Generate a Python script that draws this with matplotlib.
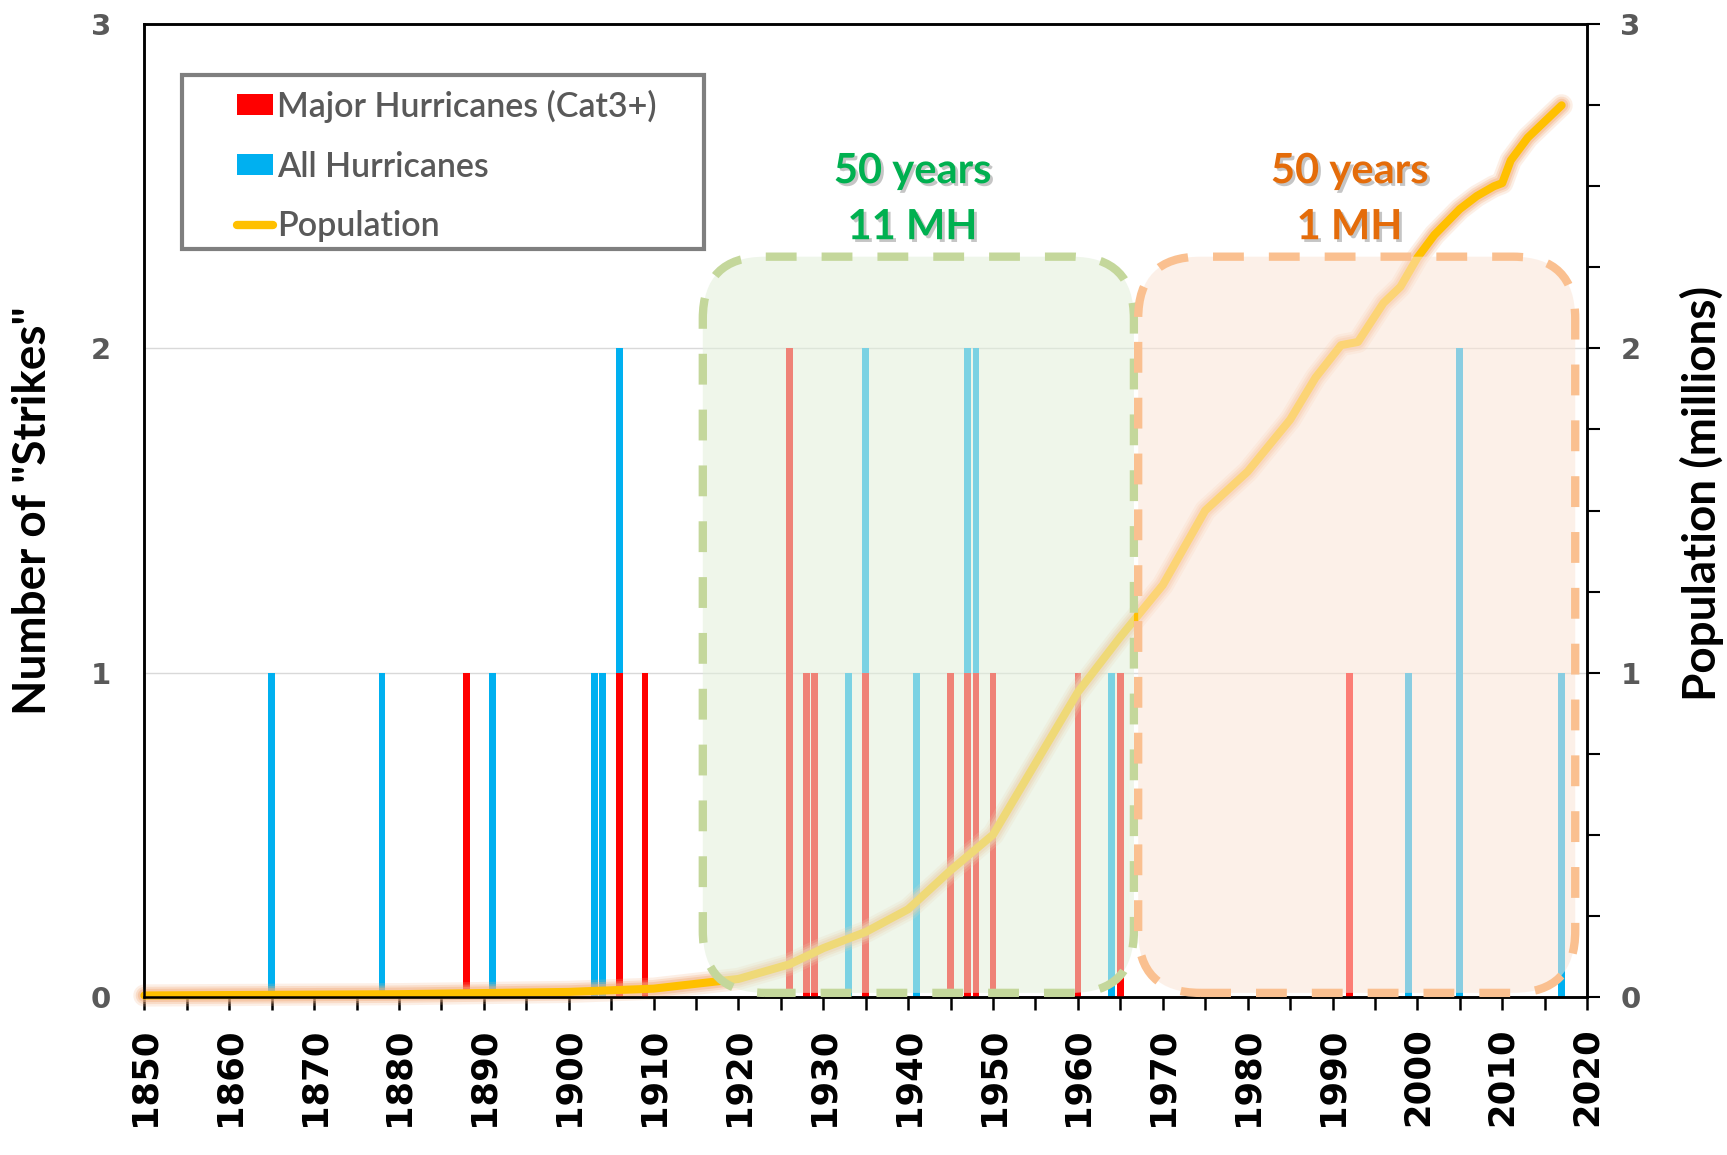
import numpy as np
import matplotlib
matplotlib.use('Agg')
import matplotlib.pyplot as plt
import matplotlib.patheffects as pe
from matplotlib import colors as mcolors
from matplotlib.patches import FancyBboxPatch, Rectangle, Patch
from matplotlib.lines import Line2D
from matplotlib.transforms import IdentityTransform

# Hurricane strikes per year (all hurricanes, major ones drawn on top)
all_years = [1865, 1878, 1888, 1891, 1903, 1904, 1906, 1909, 1926, 1928, 1929, 1933,
             1935, 1941, 1945, 1947, 1948, 1950, 1960, 1964, 1965, 1992, 1999, 2005, 2017]
all_counts = [1, 1, 1, 1, 1, 1, 2, 1, 2, 1, 1, 1,
              2, 1, 1, 2, 2, 1, 1, 1, 1, 1, 1, 2, 1]
major_years = [1888, 1906, 1909, 1926, 1928, 1929, 1935, 1945, 1947, 1948, 1950, 1960, 1965, 1992]
major_counts = [1, 1, 1, 2, 1, 1, 1, 1, 1, 1, 1, 1, 1, 1]

# Population (millions)
pop_years = [1850, 1880, 1900, 1910, 1915, 1920, 1926, 1930, 1935, 1940, 1945, 1950, 1955,
             1960, 1965, 1970, 1975, 1980, 1985, 1988, 1991, 1993, 1996, 1998, 2000, 2002,
             2005, 2007, 2009, 2010, 2011, 2013, 2015, 2017]
pop_values = [0.004, 0.008, 0.015, 0.025, 0.04, 0.055, 0.10, 0.15, 0.20, 0.27, 0.39, 0.50, 0.72,
              0.94, 1.11, 1.27, 1.50, 1.62, 1.78, 1.91, 2.01, 2.02, 2.14, 2.19, 2.28, 2.35,
              2.43, 2.47, 2.50, 2.51, 2.58, 2.65, 2.70, 2.75]

x_ticks = list(range(1850, 2021, 10))
y_ticks = [0, 1, 2, 3]

RED = '#FF0000'
BLUE = '#00B0F0'
GOLD = '#FFC000'
GRAY_TXT = '#595959'

fig = plt.figure(figsize=(17.27, 11.55), dpi=100)
ax = fig.add_axes([0.0836, 0.137, 0.8354, 0.842])
ax2 = ax.twinx()

# bars
ax.bar(all_years, all_counts, width=0.8, color=BLUE, zorder=2)
ax.bar(major_years, major_counts, width=0.8, color=RED, zorder=3)

ax.set_xlim(1850, 2020)
ax.set_ylim(0, 3)
ax2.set_ylim(0, 3)

# left axis
ax.set_yticks(y_ticks)
ax.set_yticklabels([str(v) for v in y_ticks], fontsize=21, fontweight='bold',
                   color=GRAY_TXT, family='DejaVu Sans')
ax.tick_params(axis='y', length=0, pad=24)
ax.yaxis.grid(True, color='#D9D9D9', lw=1)
ax.set_axisbelow(True)

# bottom axis
ax.set_xticks(x_ticks)
ax.set_xticklabels([str(v) for v in x_ticks], rotation=90, fontsize=25.5,
                   fontweight='bold', color='black', family='DejaVu Sans')
ax.set_xticks(range(1855, 2021, 10), minor=True)
ax.tick_params(axis='x', which='both', length=9, width=1.8, direction='out', pad=13)

# right axis
ax2.set_yticks(y_ticks)
ax2.set_yticklabels([str(v) for v in y_ticks], fontsize=21, fontweight='bold',
                    color=GRAY_TXT, family='DejaVu Sans')
ax2.set_yticks(np.arange(0, 3.01, 0.25), minor=True)
ax2.tick_params(axis='y', which='both', length=9, width=1.5, direction='out', pad=15)

for a in (ax, ax2):
    for s in a.spines.values():
        s.set_linewidth(1.8)
        s.set_color('black')

ax.set_ylabel('Number of "Strikes"', fontsize=33, fontweight='bold', family='Lato')
ax.yaxis.set_label_coords(-0.0771, 0.5)
ax.yaxis.label.set_va('center')
ax2.set_ylabel('Population (millions)', fontsize=33, fontweight='bold', family='Lato')
ax2.yaxis.set_label_coords(1.0796, 0.518)
ax2.yaxis.label.set_va('center')

# population line with soft glow
for lw, al in [(16, 0.2), (12.5, 0.3), (9.5, 0.45)]:
    ax2.plot(pop_years, pop_values, color='#F4B183', lw=lw, alpha=al,
             solid_capstyle='round', solid_joinstyle='round', clip_on=False, zorder=2)
ax2.plot(pop_years, pop_values, color=GOLD, lw=5.8, solid_capstyle='round',
         solid_joinstyle='round', clip_on=False, zorder=2)


def add_box(x0, x1, y0, y1, edge, face):
    (px0, py0), (px1, py1) = ax.transData.transform([(x0, y0), (x1, y1)])
    box = FancyBboxPatch((px0, py0), px1 - px0, py1 - py0,
                         boxstyle='round,pad=0,rounding_size=62',
                         transform=IdentityTransform(),
                         facecolor=mcolors.to_rgba(face, 0.55), edgecolor=edge,
                         lw=6, linestyle=(0, (3.7, 3.0)), zorder=3)
    ax2.add_artist(box)
    box.set_clip_on(False)


add_box(1915.8, 1966.6, 0.012, 2.283, '#C4D79B', '#E2EFDA')
add_box(1967.1, 2018.6, 0.012, 2.283, '#FAC090', '#FBE5D6')

shadow = [pe.SimplePatchShadow(offset=(2, -2), shadow_rgbFace='#7F7F7F', alpha=0.45), pe.Normal()]
for xc, col, lines in [(1940.5, '#00B050', ['50 years', '11 MH']),
                       (1992.0, '#E46C0A', ['50 years', '1 MH'])]:
    for yc, txt in zip([2.547, 2.374], lines):
        ax2.text(xc, yc, txt, ha='center', va='center', fontsize=30, fontweight='bold',
                 family='Lato', color=col, zorder=4, path_effects=shadow)

# legend
handles = [Patch(facecolor=RED, edgecolor='none', label='Major Hurricanes (Cat3+)'),
           Patch(facecolor=BLUE, edgecolor='none', label='All Hurricanes'),
           Line2D([], [], color=GOLD, lw=6, solid_capstyle='round', label='Population')]
frame = Rectangle((182, 1155 - 249), 522, 174, transform=IdentityTransform(),
                  facecolor='white', edgecolor='#7F7F7F', lw=3, zorder=6)
ax2.add_artist(frame)
frame.set_clip_on(False)
leg = ax2.legend(handles=handles, loc='upper left', bbox_to_anchor=(237 / 1727, 1 - 89.5 / 1155),
                 bbox_transform=fig.transFigure, frameon=False, borderpad=0, borderaxespad=0,
                 handlelength=1.05, handleheight=0.6, handletextpad=0.12, labelspacing=0.82,
                 prop={'family': 'Lato', 'size': 24.5, 'weight': 'semibold'},
                 labelcolor=GRAY_TXT)
leg.set_zorder(7)

fig.savefig('out.png', dpi=100)
